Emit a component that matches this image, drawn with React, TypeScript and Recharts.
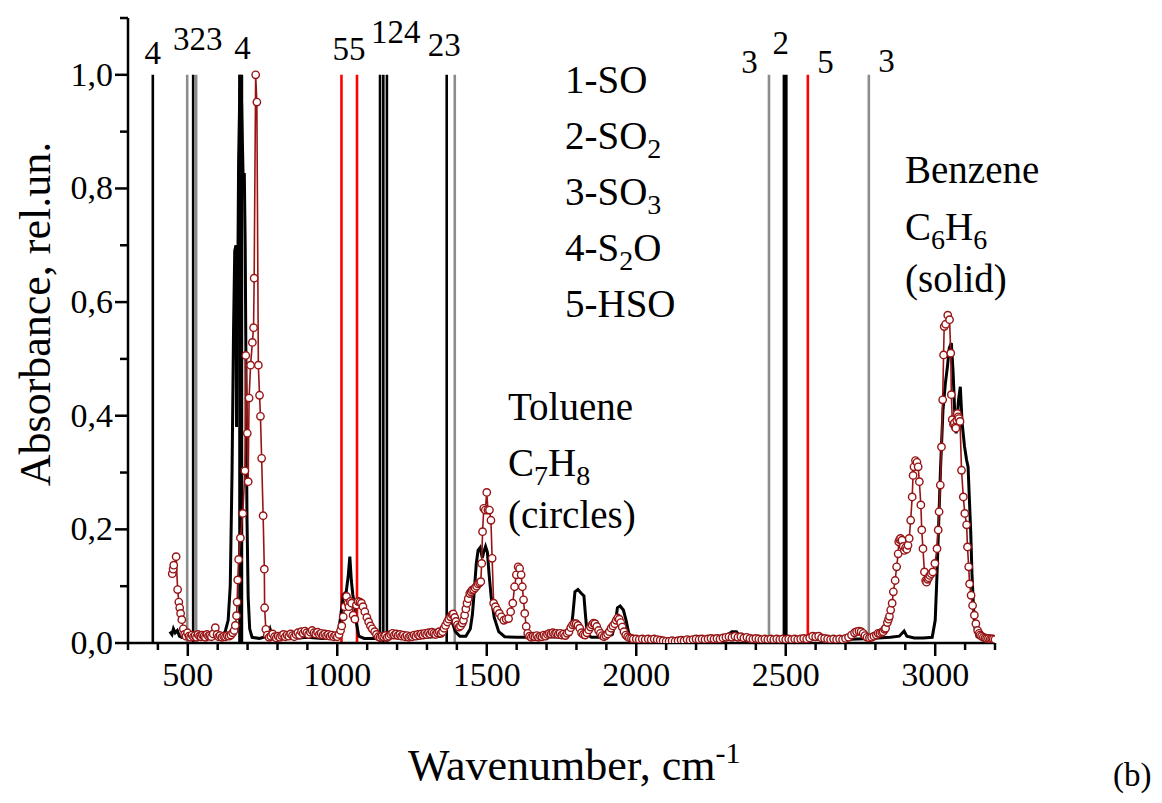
import React from 'react'
import { LineChart, Line, XAxis, YAxis, ReferenceLine, ReferenceDot } from 'recharts'

// benzene (solid black)
const benzeneWn = [
  440, 447, 452, 458, 465, 472, 480, 495, 510, 525, 540, 560, 580, 600, 615, 625, 635, 642, 648, 653,
  657, 661, 663, 666, 670, 675, 680, 685, 689, 692, 695, 698, 702, 707, 715, 740, 765, 775, 782, 800,
  850, 900, 950, 990, 1003, 1012, 1020, 1030, 1037, 1042, 1047, 1052, 1058, 1064, 1072, 1090, 1150, 1200, 1250, 1300,
  1345, 1360, 1372, 1385, 1395, 1410, 1430, 1445, 1452, 1458, 1465, 1471, 1478, 1485, 1490, 1496, 1502, 1508, 1515, 1525,
  1540, 1560, 1600, 1650, 1700, 1750, 1780, 1788, 1795, 1805, 1815, 1825, 1830, 1836, 1850, 1900, 1920, 1930, 1937, 1946,
  1957, 1966, 1975, 1990, 2050, 2100, 2150, 2200, 2215, 2230, 2300, 2320, 2335, 2350, 2400, 2500, 2600, 2700, 2780, 2850,
  2880, 2896, 2905, 2930, 2960, 2990, 3000, 3006, 3011, 3018, 3026, 3034, 3041, 3047, 3054, 3060, 3065, 3070, 3078, 3084,
  3090, 3098, 3105, 3110, 3114, 3119, 3123, 3128, 3133, 3140, 3170, 3200,
]
const benzeneAbs = [
  0.02, 0.015, 0.025, 0.018, 0.022, 0.012, 0.01, 0.012, 0.01, 0.017, 0.012, 0.01, 0.009, 0.01, 0.012, 0.02, 0.04, 0.1, 0.3, 0.55,
  0.69, 0.7, 0.38, 0.55, 0.85, 1.0, 0.95, 0.82, 0.827, 0.7, 0.45, 0.22, 0.08, 0.025, 0.01, 0.008, 0.012, 0.025, 0.012, 0.008,
  0.008, 0.01, 0.008, 0.01, 0.015, 0.05, 0.085, 0.09, 0.12, 0.152, 0.11, 0.085, 0.065, 0.035, 0.012, 0.008, 0.008, 0.01, 0.009, 0.01,
  0.012, 0.02, 0.035, 0.036, 0.02, 0.012, 0.012, 0.025, 0.05, 0.09, 0.14, 0.163, 0.168, 0.15, 0.16, 0.17, 0.16, 0.12, 0.08, 0.045,
  0.02, 0.011, 0.01, 0.01, 0.011, 0.01, 0.015, 0.05, 0.09, 0.094, 0.088, 0.083, 0.05, 0.015, 0.01, 0.01, 0.015, 0.035, 0.062, 0.065,
  0.058, 0.04, 0.017, 0.008, 0.007, 0.006, 0.006, 0.011, 0.012, 0.007, 0.012, 0.02, 0.02, 0.01, 0.006, 0.006, 0.007, 0.006, 0.008, 0.01,
  0.012, 0.021, 0.012, 0.009, 0.009, 0.01, 0.04, 0.12, 0.2, 0.31, 0.41, 0.457, 0.487, 0.519, 0.528, 0.475, 0.41, 0.369, 0.428, 0.451,
  0.387, 0.346, 0.322, 0.31, 0.257, 0.193, 0.122, 0.064, 0.026, 0.011, 0.008, 0.006,
]

// toluene (circles)
const tolueneWn = [
  448, 451, 453, 461, 466, 470, 473, 476, 480, 485, 489, 494, 499, 504, 509, 514, 519, 524, 529, 534,
  539, 544, 549, 554, 559, 564, 569, 574, 579, 585, 592, 598, 603, 608, 614, 620, 626, 632, 638, 644,
  650, 655, 659, 663, 665, 667, 670, 676, 684, 691, 694, 699, 702, 705, 710, 716, 720, 722, 727, 731,
  736, 740, 743, 747, 752, 756, 757, 761, 766, 772, 778, 784, 790, 796, 802, 808, 814, 820, 826, 832,
  838, 844, 850, 856, 862, 868, 874, 880, 886, 892, 898, 904, 910, 916, 922, 928, 934, 940, 946, 952,
  958, 964, 970, 976, 982, 988, 994, 1000, 1006, 1011, 1015, 1020, 1025, 1031, 1036, 1039, 1044, 1048, 1053, 1059,
  1064, 1070, 1076, 1081, 1086, 1092, 1099, 1105, 1111, 1117, 1125, 1131, 1137, 1143, 1149, 1155, 1161, 1167, 1173, 1179,
  1185, 1191, 1197, 1203, 1209, 1215, 1221, 1227, 1233, 1239, 1245, 1251, 1257, 1263, 1269, 1275, 1281, 1287, 1293, 1299,
  1305, 1311, 1317, 1323, 1329, 1335, 1341, 1347, 1352, 1357, 1362, 1368, 1373, 1379, 1384, 1388, 1393, 1397, 1402, 1407,
  1412, 1418, 1422, 1426, 1430, 1434, 1438, 1443, 1447, 1451, 1456, 1461, 1466, 1471, 1476, 1480, 1483, 1486, 1490, 1495,
  1500, 1504, 1509, 1514, 1518, 1523, 1529, 1535, 1542, 1549, 1557, 1565, 1573, 1580, 1587, 1593, 1599, 1605, 1610, 1615,
  1619, 1623, 1627, 1632, 1637, 1643, 1649, 1655, 1661, 1667, 1673, 1679, 1685, 1691, 1697, 1703, 1709, 1715, 1721, 1727,
  1733, 1739, 1745, 1751, 1757, 1763, 1769, 1775, 1781, 1787, 1793, 1799, 1805, 1811, 1817, 1823, 1829, 1835, 1841, 1847,
  1852, 1857, 1862, 1868, 1874, 1880, 1886, 1892, 1898, 1904, 1910, 1916, 1922, 1928, 1933, 1938, 1943, 1948, 1953, 1959,
  1965, 1971, 1977, 1984, 1990, 2000, 2010, 2020, 2030, 2040, 2050, 2060, 2070, 2080, 2090, 2100, 2110, 2120, 2130, 2140,
  2150, 2160, 2170, 2180, 2190, 2200, 2210, 2220, 2230, 2240, 2250, 2260, 2270, 2280, 2290, 2300, 2310, 2320, 2330, 2340,
  2350, 2360, 2370, 2380, 2390, 2400, 2410, 2420, 2430, 2440, 2450, 2460, 2470, 2480, 2490, 2500, 2510, 2520, 2530, 2540,
  2550, 2560, 2570, 2580, 2590, 2600, 2610, 2620, 2630, 2640, 2650, 2660, 2670, 2680, 2690, 2700, 2710, 2720, 2730, 2737,
  2745, 2752, 2759, 2765, 2772, 2780, 2787, 2795, 2803, 2809, 2815, 2821, 2826, 2831, 2834, 2840, 2844, 2847, 2851, 2856,
  2860, 2866, 2871, 2876, 2878, 2881, 2884, 2889, 2893, 2897, 2901, 2905, 2909, 2913, 2918, 2923, 2926, 2929, 2934, 2939,
  2943, 2947, 2952, 2955, 2959, 2964, 2968, 2971, 2975, 2978, 2982, 2987, 2992, 2999, 3006, 3010, 3013, 3017, 3021, 3025,
  3028, 3030, 3035, 3042, 3048, 3052, 3054, 3057, 3061, 3064, 3067, 3069, 3072, 3074, 3077, 3079, 3083, 3088, 3094, 3099,
  3105, 3108, 3112, 3115, 3120, 3125, 3131, 3136, 3142, 3147, 3150, 3155, 3161, 3167, 3172, 3178, 3184, 3189, 3194, 3200,
]
const tolueneAbs = [
  0.122, 0.13, 0.137, 0.152, 0.094, 0.072, 0.062, 0.052, 0.041, 0.025, 0.015, 0.012, 0.018, 0.012, 0.01, 0.014, 0.011, 0.013, 0.01, 0.015,
  0.012, 0.011, 0.014, 0.012, 0.01, 0.015, 0.012, 0.013, 0.011, 0.016, 0.027, 0.015, 0.011, 0.013, 0.01, 0.012, 0.011, 0.013, 0.012, 0.014,
  0.018, 0.022, 0.031, 0.048, 0.072, 0.111, 0.147, 0.185, 0.228, 0.303, 0.506, 0.369, 0.284, 0.431, 0.489, 0.529, 0.555, 0.642, 1.0, 0.952,
  0.489, 0.436, 0.399, 0.325, 0.224, 0.13, 0.062, 0.024, 0.014, 0.01, 0.012, 0.016, 0.011, 0.009, 0.012, 0.01, 0.013, 0.015, 0.011, 0.014,
  0.012, 0.016, 0.013, 0.011, 0.015, 0.018, 0.014, 0.02, 0.017, 0.021, 0.018, 0.015, 0.019, 0.022, 0.018, 0.016, 0.019, 0.015, 0.017, 0.014,
  0.016, 0.013, 0.015, 0.012, 0.014, 0.011, 0.013, 0.011, 0.015, 0.022, 0.03, 0.046, 0.064, 0.082, 0.07, 0.064, 0.073, 0.07, 0.049, 0.042,
  0.067, 0.073, 0.072, 0.07, 0.064, 0.055, 0.045, 0.037, 0.03, 0.025, 0.02, 0.015, 0.011, 0.01, 0.012, 0.011, 0.013, 0.01, 0.012, 0.015,
  0.017, 0.014, 0.016, 0.013, 0.015, 0.012, 0.014, 0.011, 0.013, 0.01, 0.012, 0.011, 0.014, 0.012, 0.015, 0.013, 0.016, 0.014, 0.017, 0.015,
  0.018, 0.016, 0.019, 0.017, 0.015, 0.018, 0.02, 0.017, 0.02, 0.026, 0.031, 0.037, 0.042, 0.046, 0.05, 0.051, 0.045, 0.038, 0.032, 0.028,
  0.03, 0.035, 0.04, 0.049, 0.06, 0.07, 0.078, 0.087, 0.09, 0.093, 0.094, 0.097, 0.1, 0.104, 0.106, 0.108, 0.14, 0.196, 0.237, 0.234,
  0.265, 0.234, 0.234, 0.216, 0.149, 0.07, 0.064, 0.058, 0.052, 0.046, 0.04, 0.042, 0.043, 0.055, 0.07, 0.099, 0.12, 0.134, 0.131, 0.12,
  0.099, 0.076, 0.052, 0.029, 0.017, 0.012, 0.01, 0.012, 0.011, 0.013, 0.01, 0.012, 0.011, 0.014, 0.012, 0.015, 0.017, 0.016, 0.018, 0.016,
  0.017, 0.015, 0.017, 0.014, 0.016, 0.013, 0.017, 0.02, 0.027, 0.032, 0.034, 0.034, 0.031, 0.026, 0.018, 0.015, 0.014, 0.018, 0.023, 0.028,
  0.032, 0.035, 0.034, 0.029, 0.022, 0.017, 0.013, 0.011, 0.013, 0.016, 0.02, 0.026, 0.03, 0.034, 0.04, 0.044, 0.042, 0.036, 0.028, 0.02,
  0.014, 0.011, 0.009, 0.008, 0.007, 0.007, 0.006, 0.007, 0.006, 0.007, 0.006, 0.007, 0.006, 0.005, 0.004, 0.003, 0.003, 0.004, 0.003, 0.004,
  0.005, 0.004, 0.006, 0.005, 0.006, 0.007, 0.006, 0.007, 0.006, 0.007, 0.008, 0.007, 0.008, 0.007, 0.009, 0.01, 0.011, 0.01, 0.012, 0.01,
  0.011, 0.009, 0.01, 0.008, 0.007, 0.008, 0.007, 0.006, 0.007, 0.006, 0.007, 0.006, 0.007, 0.006, 0.007, 0.006, 0.007, 0.006, 0.007, 0.006,
  0.007, 0.008, 0.007, 0.009, 0.012, 0.011, 0.012, 0.009, 0.008, 0.007, 0.006, 0.007, 0.006, 0.007, 0.006, 0.008, 0.01, 0.014, 0.018, 0.02,
  0.021, 0.02, 0.017, 0.013, 0.01, 0.009, 0.01, 0.012, 0.014, 0.017, 0.017, 0.019, 0.02, 0.024, 0.026, 0.036, 0.042, 0.047, 0.058, 0.07,
  0.09, 0.11, 0.134, 0.157, 0.178, 0.182, 0.184, 0.181, 0.17, 0.163, 0.168, 0.165, 0.172, 0.184, 0.216, 0.257, 0.295, 0.31, 0.321, 0.318,
  0.31, 0.284, 0.243, 0.199, 0.166, 0.125, 0.11, 0.107, 0.112, 0.115, 0.119, 0.122, 0.125, 0.14, 0.166, 0.199, 0.231, 0.278, 0.345, 0.428,
  0.507, 0.557, 0.561, 0.577, 0.569, 0.51, 0.437, 0.393, 0.385, 0.387, 0.38, 0.378, 0.392, 0.404, 0.398, 0.395, 0.39, 0.304, 0.257, 0.228,
  0.208, 0.169, 0.134, 0.104, 0.084, 0.066, 0.049, 0.034, 0.022, 0.017, 0.014, 0.012, 0.01, 0.009, 0.008, 0.008, 0.007, 0.007, 0.007, 0.006,
]

// marker lines: wavenumber and molecule number (1-SO 2-SO2 3-SO3 4-S2O 5-HSO)
const markWn = [383, 498, 518, 528, 677, 1014, 1066, 1143, 1154, 1166, 1366, 1393, 2444, 2498, 2574, 2778]
const markMol = [4, 3, 2, 3, 4, 5, 5, 1, 2, 4, 2, 3, 3, 2, 5, 3]

// number labels above the marker lines
const labelText = ['4', '323', '4', '55', '124', '23', '3', '2', '5', '3']
const labelWn = [383, 533, 683, 1039, 1196, 1358, 2379, 2483, 2633, 2837]
const labelAbs = [1.04, 1.065, 1.049, 1.047, 1.076, 1.053, 1.023, 1.058, 1.023, 1.026]

const xTicks = [300, 400, 500, 600, 700, 800, 900, 1000, 1100, 1200, 1300, 1400, 1500, 1600, 1700, 1800, 1900, 2000,
  2100, 2200, 2300, 2400, 2500, 2600, 2700, 2800, 2900, 3000, 3100, 3200]
const yTicks = [0, 0.1, 0.2, 0.3, 0.4, 0.5, 0.6, 0.7, 0.8, 0.9, 1.0, 1.1]

const benzene = benzeneWn.map((wn, i) => ({ wn, abs: benzeneAbs[i] }))
const toluene = tolueneWn.map((wn, i) => ({ wn, abs: tolueneAbs[i] }))

const FONT = '"Liberation Serif", "Times New Roman", serif'
const RED = '#981414'
const molColor: Record<number, string> = { 1: '#000', 2: '#000', 3: '#8c8c8c', 4: '#000', 5: '#ff0000' }
const thickMarks = new Set([677, 2498])

const XTick = (props: any) => {
  const { x, y, payload } = props
  const major = payload.value % 500 === 0
  return (
    <g>
      <line x1={x} x2={x} y1={y} y2={y + (major ? 13 : 7)} stroke="#000" strokeWidth={2.5} />
      {major && payload.value >= 500 && payload.value <= 3000 && (
        <text x={x} y={y + 43} textAnchor="middle" fontSize={34} fontFamily={FONT} fill="#000">
          {payload.value}
        </text>
      )}
    </g>
  )
}

const YTick = (props: any) => {
  const { x, y, payload } = props
  const n = Math.round(payload.value * 10)
  const major = n % 2 === 0
  return (
    <g>
      <line x1={x - (major ? 13 : 8)} x2={x} y1={y} y2={y} stroke="#000" strokeWidth={2.5} />
      {major && (
        <text x={x - 15} y={y + 11} textAnchor="end" fontSize={34} fontFamily={FONT} fill="#000">
          {payload.value.toFixed(1).replace('.', ',')}
        </text>
      )}
    </g>
  )
}

const Sub = ({ children }: { children: string }) => (
  <tspan dy={9} fontSize={28}>{children}</tspan>
)

export default function App() {
  const legend: Array<[string, string, string]> = [
    ['1-SO', '', ''],
    ['2-SO', '2', ''],
    ['3-SO', '3', ''],
    ['4-S', '2', 'O'],
    ['5-HSO', '', ''],
  ]
  return (
    <div style={{ position: 'absolute', left: 0, top: 0, width: 1162, height: 803, background: '#fff' }}>
      <LineChart width={1162} height={803} margin={{ top: 18, right: 167, bottom: 100, left: 28 }}>
        <XAxis
          dataKey="wn"
          type="number"
          domain={[300, 3200]}
          ticks={xTicks}
          interval={0}
          tickSize={0}
          tickMargin={0}
          tick={<XTick />}
          axisLine={{ stroke: '#000', strokeWidth: 2.5 }}
          height={60}
          allowDataOverflow
        />
        <YAxis
          type="number"
          domain={[0, 1.1]}
          ticks={yTicks}
          interval={0}
          tickSize={0}
          tickMargin={0}
          tick={<YTick />}
          axisLine={{ stroke: '#000', strokeWidth: 2.5 }}
          width={100}
          allowDataOverflow
        />
        {markWn.map((wn, i) => (
          <ReferenceLine
            key={'m' + i}
            segment={[{ x: wn, y: 0 }, { x: wn, y: 1 }]}
            stroke={molColor[markMol[i]]}
            strokeWidth={thickMarks.has(wn) ? 5 : 2.6}
          />
        ))}
        {labelText.map((t, i) => (
          <ReferenceDot
            key={'l' + i}
            x={labelWn[i]}
            y={labelAbs[i]}
            r={0}
            fill="none"
            stroke="none"
            label={{ value: t, position: 'center', fontSize: 33, fill: '#000', fontFamily: FONT }}
          />
        ))}
        <Line
          data={benzene}
          dataKey="abs"
          type="linear"
          stroke="#000"
          strokeWidth={3}
          dot={false}
          isAnimationActive={false}
        />
        <Line
          data={toluene}
          dataKey="abs"
          type="linear"
          stroke={RED}
          strokeWidth={1.6}
          dot={{ r: 3.7, fill: '#fff', stroke: RED, strokeWidth: 1.4 }}
          isAnimationActive={false}
        />
      </LineChart>
      <svg width={1162} height={803} style={{ position: 'absolute', left: 0, top: 0, pointerEvents: 'none' }}>
        <g fontFamily={FONT} fill="#000" fontSize={39}>
          {legend.map(([a, s, b], i) => (
            <text key={i} x={565} y={93 + i * 56}>
              {a}
              {s && <Sub>{s}</Sub>}
              {b && <tspan dy={-9}>{b}</tspan>}
            </text>
          ))}
          <text x={508} y={420}>Toluene</text>
          <text x={508} y={476}>C<Sub>7</Sub><tspan dy={-9}>H</tspan><Sub>8</Sub></text>
          <text x={508} y={528}>(circles)</text>
          <text x={905} y={183}>Benzene</text>
          <text x={905} y={240}>C<Sub>6</Sub><tspan dy={-9}>H</tspan><Sub>6</Sub></text>
          <text x={905} y={292}>(solid)</text>
          <text x={408} y={780} fontSize={44}>
            Wavenumber, cm<tspan dy={-17} fontSize={30}>-1</tspan>
          </text>
          <text transform="rotate(-90, 50, 314)" x={50} y={314} textAnchor="middle" fontSize={44}>
            Absorbance, rel.un.
          </text>
          <text x={1113} y={786} fontSize={33}>(b)</text>
        </g>
      </svg>
    </div>
  )
}
